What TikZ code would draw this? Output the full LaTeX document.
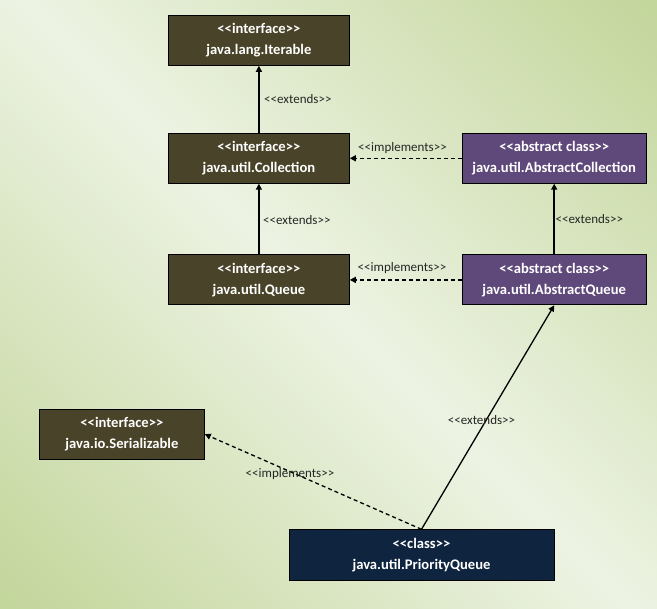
\documentclass[tikz,border=0pt]{standalone}
\usepackage{fontspec}
\setmainfont{Carlito}
\usetikzlibrary{arrows.meta}
\definecolor{bggreen}{HTML}{C3D69B}
\definecolor{bglight}{HTML}{EDF3E3}
\definecolor{ifill}{HTML}{494429}
\definecolor{afill}{HTML}{5F497A}
\definecolor{cfill}{HTML}{0F243E}
\pgfdeclarehorizontalshading{bgshade}{100bp}{color(0bp)=(bggreen); color(15bp)=(bggreen); color(50bp)=(bglight); color(85bp)=(bggreen); color(100bp)=(bggreen)}
\newcommand\lgl{\textless\kern0pt\textless\kern0pt}
\newcommand\rgr{\kern0pt\textgreater\kern0pt\textgreater}
\tikzset{
  box/.style={draw=black, line width=0.8pt, text=white, font=\fontsize{14.6}{20.6}\selectfont\bfseries, align=center, inner sep=0pt, minimum height=50pt},
  iface/.style={box, fill=ifill, minimum width=181pt},
  aclass/.style={box, fill=afill, minimum width=184pt},
  cclass/.style={box, fill=cfill, minimum width=265pt, minimum height=51pt},
  lbl/.style={font=\fontsize{13}{15}\selectfont, text=black!85, inner sep=0pt},
  ext/.style={-{Triangle[length=6pt,width=6pt]}, line width=1.3pt},
  impl/.style={ext, dash pattern=on 4pt off 3pt}
}
\begin{document}
\begin{tikzpicture}[x=1pt,y=-1pt]
\path[shading=bgshade, shading angle=45] (0,0) rectangle (657,609);
\useasboundingbox (0,0) rectangle (657,609);
\node[iface] (iter) at (258.9,40.4) {\lgl interface\rgr\\java.lang.Iterable};
\node[iface] (coll) at (258.9,158.3) {\lgl interface\rgr\\java.util.Collection};
\node[iface] (queue) at (258.9,279.9) {\lgl interface\rgr\\java.util.Queue};
\node[aclass] (acoll) at (554.2,158.3) {\lgl abstract class\rgr\\java.util.AbstractCollection};
\node[aclass] (aq) at (554.2,279.9) {\lgl abstract class\rgr\\java.util.AbstractQueue};
\node[iface, minimum width=165pt] (ser) at (121.9,434.2) {\lgl interface\rgr\\java.io.Serializable};
\node[cclass] (pq) at (421.5,555.2) {\lgl class\rgr\\java.util.PriorityQueue};
\draw[ext] (coll) -- (iter);
\draw[ext] (queue) -- (coll);
\draw[impl] (acoll) -- (coll);
\draw[impl] (aq) -- (queue);
\draw[ext, line width=2pt] (aq) -- (acoll);
\draw[ext] (pq.north) -- (aq.south);
\draw[impl] (pq.north) -- (ser.east);
\node[lbl, anchor=west] (l1) at (264,99.4) {\lgl extends\rgr};
\node[lbl, anchor=west] (l2) at (263,220) {\lgl extends\rgr};
\node[lbl] (l3) at (402.5,147.6) {\lgl implements\rgr};
\node[lbl] (l4) at (402,268) {\lgl implements\rgr};
\node[lbl, anchor=west] (l5) at (555.5,218.6) {\lgl extends\rgr};
\node[lbl] (l6) at (481.5,420) {\lgl extends\rgr};
\node[lbl] (l7) at (290,474) {\lgl implements\rgr};
\end{tikzpicture}
\end{document}
